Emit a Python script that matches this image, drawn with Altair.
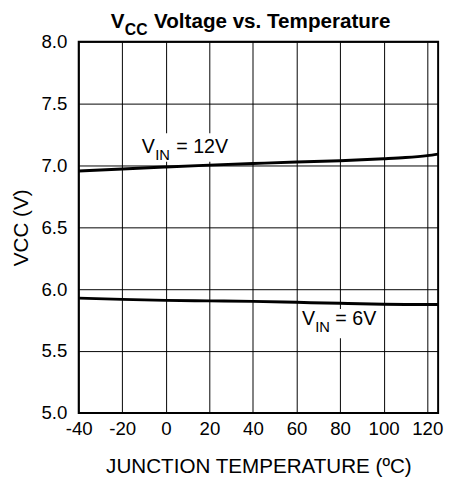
import altair as alt
import pandas as pd

# ---- data ----
temp_12v = [-40, -20, 0, 20, 40, 60, 80, 100, 110, 120, 125]
vcc_12v = [6.955, 6.972, 6.988, 7.003, 7.016, 7.028, 7.039, 7.054, 7.064, 7.080, 7.092]
temp_6v = [-40, -20, 0, 20, 40, 60, 80, 100, 110, 125]
vcc_6v = [5.928, 5.918, 5.910, 5.906, 5.902, 5.894, 5.886, 5.879, 5.877, 5.876]

x_ticks = [-40, -20, 0, 20, 40, 60, 80, 100, 120]
y_ticks = [5.0, 5.5, 6.0, 6.5, 7.0, 7.5, 8.0]

# annotation labels (data coordinates)
lbl_main_text = ["V", "= 12V", "V", "= 6V"]
lbl_main_x = [-11.1, 4.8, 62.5, 77.8]
lbl_main_y = [7.098, 7.098, 5.709, 5.709]
lbl_sub_text = ["IN", "IN"]
lbl_sub_x = [-4.9, 68.6]
lbl_sub_y = [7.045, 5.651]
box_x = [-12.0, 61.5]
box_x2 = [31.0, 99.5]
box_y = [7.03, 5.603]
box_y2 = [7.26, 5.841]

FONT = "Liberation Sans"

df = pd.DataFrame(
    {"temp": temp_12v + temp_6v,
     "vcc": vcc_12v + vcc_6v,
     "series": ["12V"] * len(temp_12v) + ["6V"] * len(temp_6v)}
)
main_df = pd.DataFrame({"t": lbl_main_text, "x": lbl_main_x, "y": lbl_main_y})
sub_df = pd.DataFrame({"t": lbl_sub_text, "x": lbl_sub_x, "y": lbl_sub_y})
box_df = pd.DataFrame({"x": box_x, "x2": box_x2, "y": box_y, "y2": box_y2})

xscale = alt.Scale(domain=[-40, 125], nice=False, zero=False)
yscale = alt.Scale(domain=[5, 8], nice=False, zero=False)

xaxis = alt.Axis(values=x_ticks, title="JUNCTION TEMPERATURE (ºC)", grid=True,
                 labelExpr="'' + datum.value", labelOverlap=False, labelFlush=False,
                 labelPadding=7, titleY=61, titleBaseline="alphabetic",
                 labelFontSize=19, titleFontSize=21)
yaxis = alt.Axis(values=y_ticks, format=".1f", title="VCC (V)", grid=True,
                 labelOverlap=False, labelFlush=False,
                 labelPadding=12, titleX=-52, titleBaseline="alphabetic",
                 labelFontSize=19, titleFontSize=21)

lines = alt.Chart(df).mark_line(color="black", strokeWidth=3, interpolate="monotone").encode(
    x=alt.X("temp:Q", scale=xscale, axis=xaxis),
    y=alt.Y("vcc:Q", scale=yscale, axis=yaxis),
    detail="series:N",
)

boxes = alt.Chart(box_df).mark_rect(color="white").encode(
    x=alt.X("x:Q", scale=xscale), x2="x2:Q",
    y=alt.Y("y:Q", scale=yscale), y2="y2:Q",
)

main_txt = alt.Chart(main_df).mark_text(
    font=FONT, fontSize=20, align="left", baseline="alphabetic", color="black"
).encode(x=alt.X("x:Q", scale=xscale), y=alt.Y("y:Q", scale=yscale), text="t:N")

sub_txt = alt.Chart(sub_df).mark_text(
    font=FONT, fontSize=15, align="left", baseline="alphabetic", color="black"
).encode(x=alt.X("x:Q", scale=xscale), y=alt.Y("y:Q", scale=yscale), text="t:N")

t1 = alt.Chart(pd.DataFrame({"t": ["V"]})).mark_text(
    font=FONT, fontSize=21, fontWeight="bold", align="left", baseline="alphabetic"
).encode(text="t:N", x=alt.value(32.7), y=alt.value(-14))
t2 = alt.Chart(pd.DataFrame({"t": ["CC"]})).mark_text(
    font=FONT, fontSize=16, fontWeight="bold", align="left", baseline="alphabetic"
).encode(text="t:N", x=alt.value(47), y=alt.value(-6.5))
t3 = alt.Chart(pd.DataFrame({"t": ["Voltage vs. Temperature"]})).mark_text(
    font=FONT, fontSize=21, fontWeight="bold", align="left", baseline="alphabetic"
).encode(text="t:N", x=alt.value(76.7), y=alt.value(-14))

chart = alt.layer(boxes, lines, main_txt, sub_txt, t1, t2, t3).properties(
    width=366, height=378,
    autosize=alt.AutoSizeParams(type="none"),
    padding={"left": 72, "top": 30, "right": 7, "bottom": 70},
).configure_view(
    stroke="black", strokeWidth=2
).configure_axis(
    grid=True, gridColor="black", gridWidth=1, gridOpacity=1,
    domain=False, ticks=False, tickSize=0,
    labelFont=FONT, titleFont=FONT, labelColor="black", titleColor="black",
    titleFontWeight="normal",
)

chart.save("out.html", embed_options={"renderer": "svg", "actions": False})
